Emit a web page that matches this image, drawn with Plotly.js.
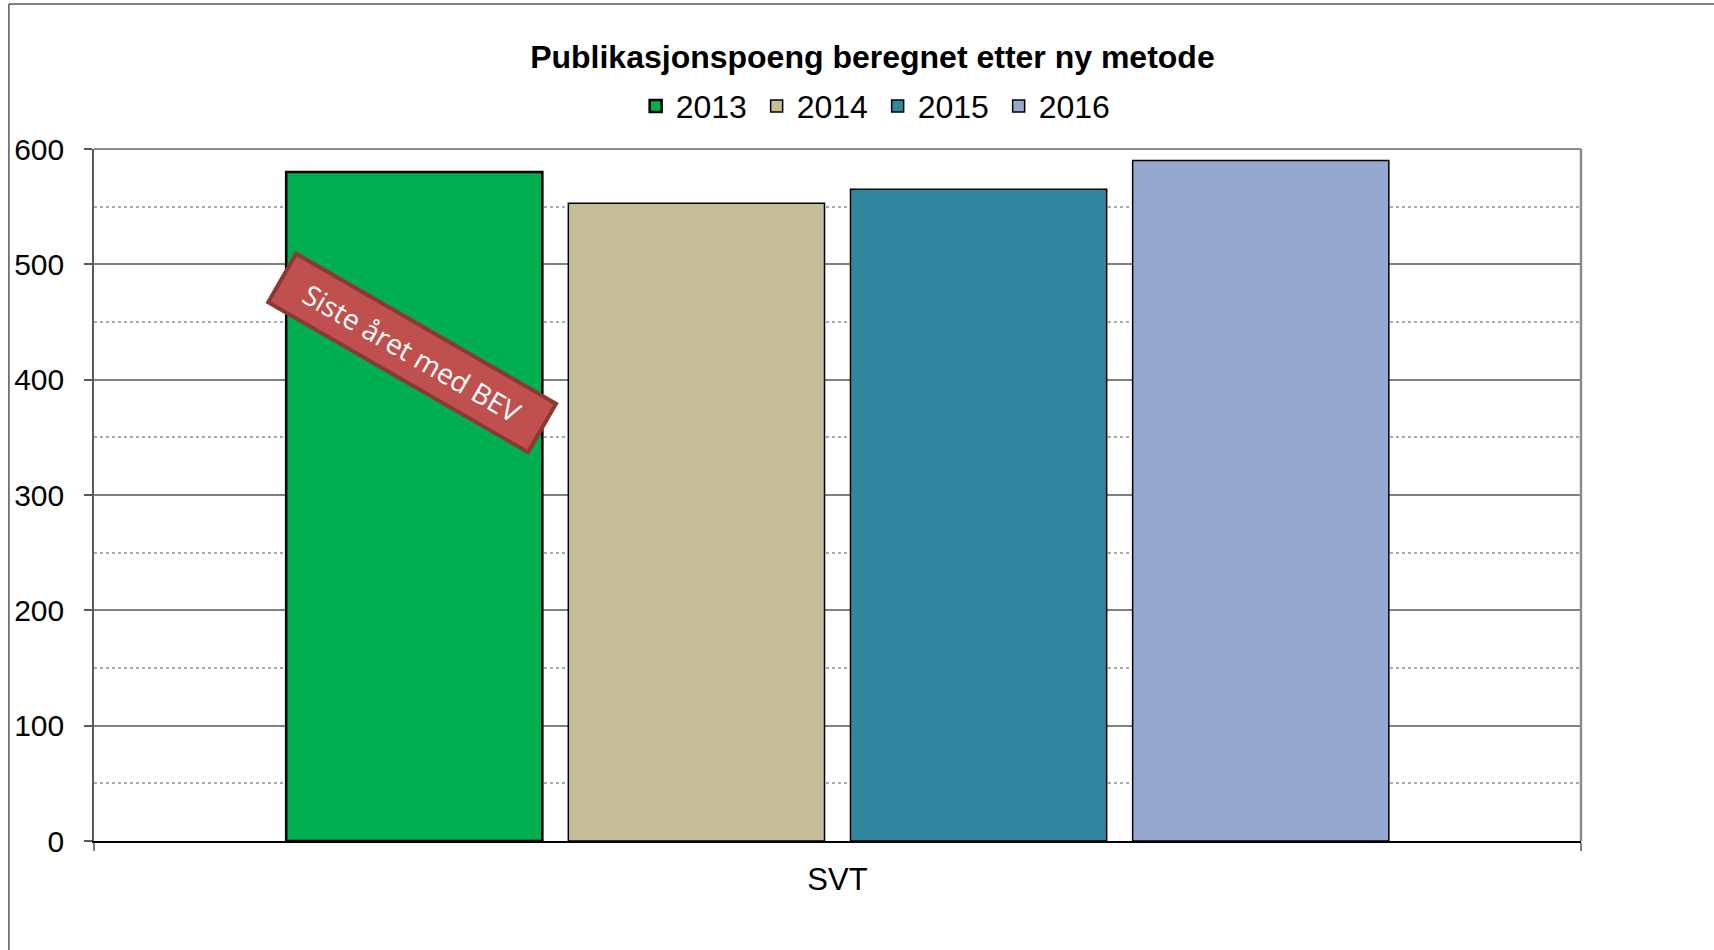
<!DOCTYPE html>
<html>
<head>
<meta charset="utf-8">
<script src="https://cdn.plot.ly/plotly-3.0.1.min.js"></script>
<style>
html,body{margin:0;padding:0;background:#fff;}
#chart{width:1714px;height:950px;}
</style>
</head>
<body>
<div id="chart"></div>
<script>
const categories = ['SVT'];
const years = ['2013', '2014', '2015', '2016'];
const values2013 = [580];
const values2014 = [553];
const values2015 = [565];
const values2016 = [590];
const yTickVals = [0, 100, 200, 300, 400, 500, 600];
const yTickText = ['0', '100', '200', '300', '400', '500', '600'];
const noteText = 'Siste året med BEV';

const seriesValues = [values2013, values2014, values2015, values2016];
const colors = ['#00B050', '#C4BD97', '#31859C', '#95A9D0'];
const lineWidths = [2.5, 1.5, 1.5, 1.5];

const traces = years.map((yr, i) => ({
  type: 'bar',
  name: yr,
  x: categories,
  y: seriesValues[i],
  marker: {color: colors[i], line: {color: '#000000', width: lineWidths[i]}},
  hoverinfo: 'x+y+name'
}));

const font = 'Liberation Sans, Arial, sans-serif';

const layout = {
  width: 1714,
  height: 950,
  margin: {l: 94, r: 133, t: 149, b: 109},
  paper_bgcolor: '#ffffff',
  plot_bgcolor: '#ffffff',
  barmode: 'group',
  bargap: 0.241,
  bargroupgap: 0.092,
  font: {family: font, size: 30, color: '#000000'},
  title: {
    text: '<b>Publikasjonspoeng beregnet etter ny metode</b>',
    font: {family: font, size: 32, color: '#000000'},
    x: 0.509, xref: 'container', xanchor: 'center',
    y: 0.94, yref: 'container', yanchor: 'middle'
  },
  showlegend: true,
  legend: {
    orientation: 'h',
    x: 0.527, xanchor: 'center',
    y: 1.062, yanchor: 'middle',
    font: {family: font, size: 32, color: '#000000'},
    itemclick: false, itemdoubleclick: false,
    tracegroupgap: 0,
    entrywidth: 76
  },
  xaxis: {
    type: 'category',
    range: [-0.5, 0.5],
    showline: true, linecolor: '#000000', linewidth: 2,
    ticks: 'outside', tickson: 'boundaries', ticklen: 8, tickcolor: '#808080', tickwidth: 1.5,
    showgrid: false, zeroline: false,
    tickfont: {family: font, size: 31, color: '#000000'},
    ticklabelstandoff: 10,
    fixedrange: true
  },
  yaxis: {
    range: [0, 600],
    tickvals: yTickVals, ticktext: yTickText,
    showline: true, linecolor: '#595959', linewidth: 1.5,
    ticks: 'outside', ticklen: 8, tickcolor: '#595959', tickwidth: 1.5,
    showgrid: true, gridcolor: '#808080', gridwidth: 1.5,
    zeroline: false,
    minor: {dtick: 50, showgrid: true, gridcolor: '#AAAAAA', griddash: 'dot', gridwidth: 1.5, ticks: ''},
    tickfont: {family: font, size: 30, color: '#000000'},
    ticklabelstandoff: 14,
    fixedrange: true
  },
  shapes: [
    {type: 'line', xref: 'paper', yref: 'paper', x0: 0, x1: 1, y0: 1, y1: 1, line: {color: '#8C8C8C', width: 2}},
    {type: 'line', xref: 'paper', yref: 'paper', x0: 1, x1: 1, y0: 0, y1: 1, line: {color: '#8C8C8C', width: 2.5}},
    {type: 'line', xref: 'paper', yref: 'paper', x0: -0.0572, x1: -0.0572, y0: 1.2095, y1: -0.16, line: {color: '#000000', width: 1}},
    {type: 'line', xref: 'paper', yref: 'paper', x0: -0.0572, x1: 1.09, y0: 1.2095, y1: 1.2095, line: {color: '#000000', width: 1}}
  ],
  annotations: [{
    x: -0.286, xref: 'x', y: 423, yref: 'y',
    text: noteText,
    showarrow: false,
    textangle: 30,
    font: {family: 'Open Sans, sans-serif', size: 28, color: '#ffffff'},
    bgcolor: '#C0504D',
    bordercolor: '#8C3836',
    borderwidth: 4,
    borderpad: 4,
    width: 288,
    height: 44,
    align: 'center',
    valign: 'middle'
  }]
};

Plotly.newPlot('chart', traces, layout, {displayModeBar: false, staticPlot: false});
</script>
</body>
</html>
